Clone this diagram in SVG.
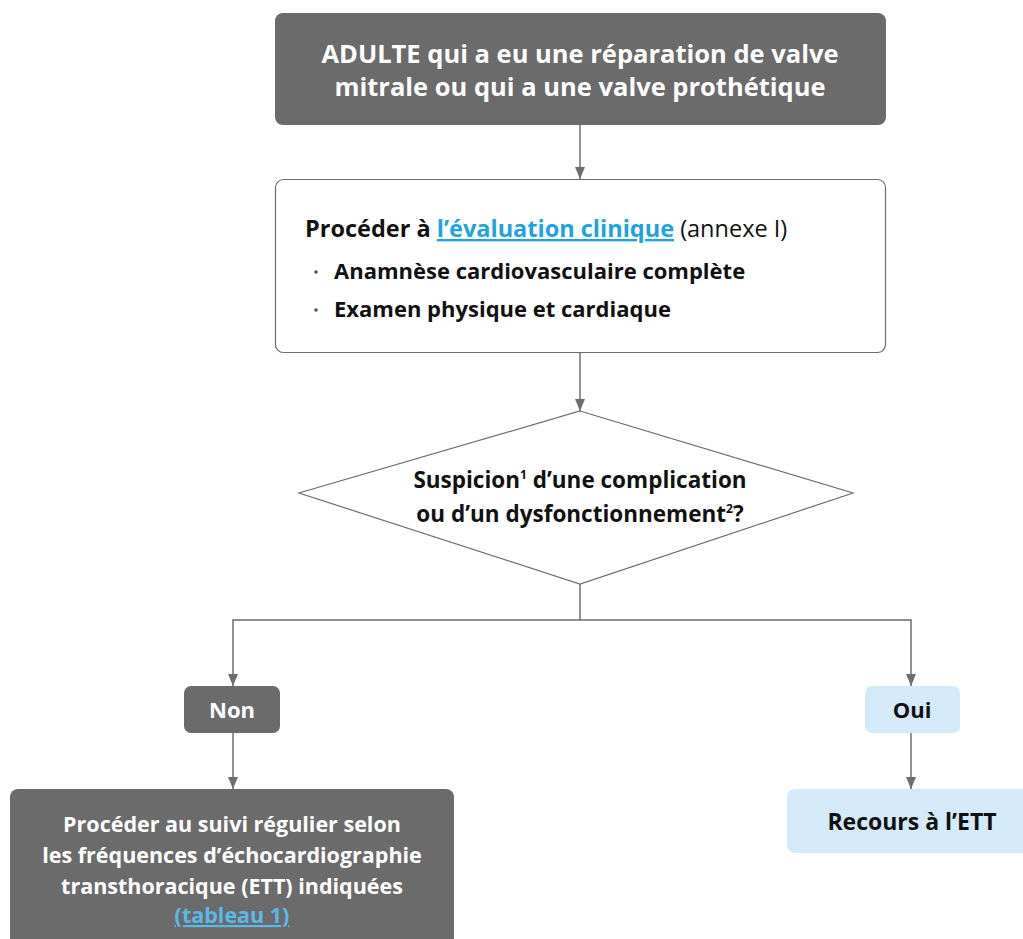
<svg xmlns="http://www.w3.org/2000/svg" width="1023" height="939" viewBox="0 0 1023 939">
<style>
text{font-family:"Open Sans","Liberation Sans",sans-serif;font-weight:bold}
.w{fill:#ffffff}
.k{fill:#111111}
.c{text-anchor:middle}
.dark{fill:#6b6b6b}
.light{fill:#d4eaf9}
.ln{fill:none;stroke:#6e6e6e;stroke-width:1.5}
.lk{fill:#1ea3de;text-decoration:underline}
.lk2{fill:#5ab9e8;text-decoration:underline}
</style>
<defs>
<marker id="ah" markerWidth="12" markerHeight="10" refX="12" refY="5" orient="auto" markerUnits="userSpaceOnUse" viewBox="0 0 12 10">
<path d="M0,0 L12,5 L0,10 Z" fill="#6e6e6e"/>
</marker>
</defs>
<g id="connectors">
<line class="ln" x1="580" y1="125" x2="580" y2="179" marker-end="url(#ah)"/>
<line class="ln" x1="580" y1="353" x2="580" y2="411" marker-end="url(#ah)"/>
<polyline class="ln" points="580,584 580,620 233,620 233,686" marker-end="url(#ah)"/>
<polyline class="ln" points="580,620 911,620 911,686" marker-end="url(#ah)"/>
<line class="ln" x1="233" y1="733" x2="233" y2="789" marker-end="url(#ah)"/>
<line class="ln" x1="911" y1="733" x2="911" y2="789" marker-end="url(#ah)"/>
</g>
<g id="start">
<rect class="dark" x="275" y="13" width="611" height="112" rx="8"/>
<text class="w c" x="580" y="63" font-size="25.5">ADULTE qui a eu une réparation de valve</text>
<text class="w c" x="580" y="96" font-size="25.5">mitrale ou qui a une valve prothétique</text>
</g>
<g id="evaluation">
<rect x="275.5" y="179.5" width="610" height="173" rx="8" fill="#ffffff" stroke="#6e6e6e" stroke-width="1.2"/>
<text class="k" x="305" y="237" font-size="23.5">Procéder à <tspan class="lk">l’évaluation clinique</tspan><tspan font-weight="normal"> (annexe I)</tspan></text>
<circle cx="316" cy="272" r="1.8" fill="#555"/>
<text class="k" x="334" y="279" font-size="22">Anamnèse cardiovasculaire complète</text>
<circle cx="316" cy="310" r="1.8" fill="#555"/>
<text class="k" x="334" y="317" font-size="22">Examen physique et cardiaque</text>
</g>
<g id="decision">
<polygon points="580,411 853,493 580,584 299,493" fill="#ffffff" stroke="#6e6e6e" stroke-width="1.2"/>
<text class="k c" x="580" y="488" font-size="22.5">Suspicion<tspan font-size="12" dy="-9">1</tspan><tspan dy="9"> d’une complication</tspan></text>
<text class="k c" x="580" y="522" font-size="22.5">ou d’un dysfonctionnement<tspan font-size="12" dy="-9">2</tspan><tspan dy="9">?</tspan></text>
</g>
<g id="non">
<rect class="dark" x="184" y="686" width="96" height="47" rx="7"/>
<text class="w c" x="232" y="718" font-size="22">Non</text>
</g>
<g id="oui">
<rect class="light" x="865" y="686" width="95" height="47" rx="7"/>
<text class="k c" x="912" y="718" font-size="22">Oui</text>
</g>
<g id="suivi">
<rect class="dark" x="10" y="789" width="444" height="160" rx="8"/>
<text class="w c" x="232" y="832" font-size="21.5">Procéder au suivi régulier selon</text>
<text class="w c" x="232" y="863" font-size="21.5">les fréquences d’échocardiographie</text>
<text class="w c" x="232" y="894" font-size="21.5">transthoracique (ETT) indiquées</text>
<text class="c lk2" x="232" y="923" font-size="21.5">(tableau 1)</text>
</g>
<g id="ett">
<rect class="light" x="787" y="789" width="250" height="64" rx="8"/>
<text class="k c" x="912" y="830" font-size="23">Recours à l’ETT</text>
</g>
</svg>
